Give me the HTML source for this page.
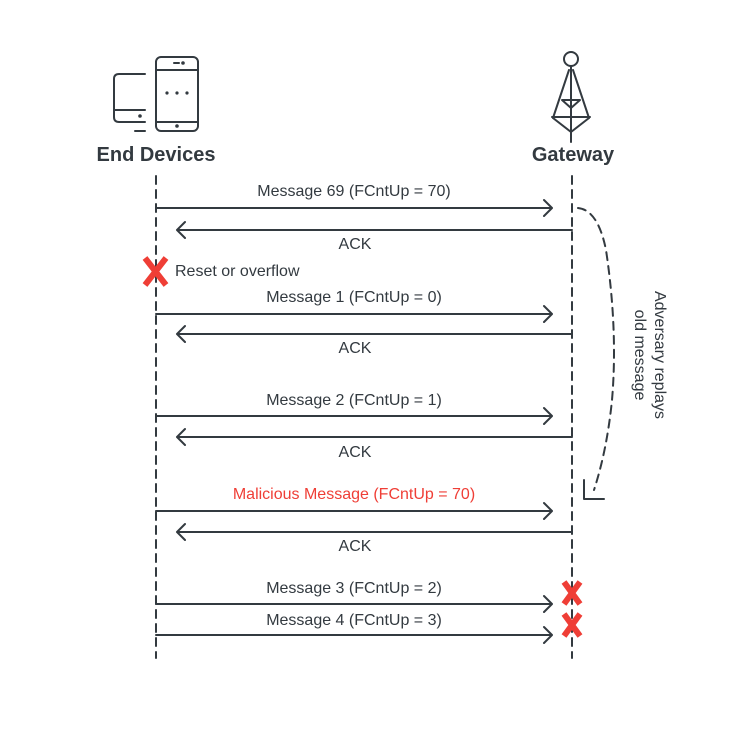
<!DOCTYPE html>
<html><head><meta charset="utf-8"><style>
html,body{margin:0;padding:0;background:#fff;}
svg{display:block;}
text{font-family:"Liberation Sans",Arial,sans-serif;fill:#333a40;}
</style></head><body>
<svg width="730" height="730" viewBox="0 0 730 730" xmlns="http://www.w3.org/2000/svg">
<g stroke="#333a40" stroke-width="2" fill="none" stroke-linecap="round" stroke-linejoin="round">
  <!-- tablet -->
  <path d="M145 74 H119 Q114 74 114 79 V117 Q114 122 119 122 H145"/>
  <line x1="114" y1="110" x2="145" y2="110"/>
  <line x1="135" y1="131" x2="145" y2="131"/>
  <circle cx="140" cy="116" r="0.8" fill="#333a40"/>
  <!-- phone -->
  <rect x="156" y="57" width="42" height="74" rx="5"/>
  <line x1="156" y1="70" x2="198" y2="70"/>
  <line x1="156" y1="122" x2="198" y2="122"/>
  <line x1="174" y1="63" x2="179" y2="63"/>
  <circle cx="183" cy="63" r="0.8" fill="#333a40"/>
  <circle cx="177" cy="126" r="0.8" fill="#333a40"/>
  <circle cx="167" cy="93" r="0.6" fill="#333a40"/>
  <circle cx="177" cy="93" r="0.6" fill="#333a40"/>
  <circle cx="187" cy="93" r="0.6" fill="#333a40"/>
  <!-- tower -->
  <circle cx="571" cy="59" r="7"/>
  <line x1="571" y1="66" x2="571" y2="142"/>
  <path d="M569 70 L553 118 M573 70 L589 118"/>
  <path d="M562 100 H580 L571 108 Z"/>
  <path d="M552 117 H590 M553 118 L571 132 L589 118"/>
  <!-- lifelines -->
  <line x1="156" y1="176" x2="156" y2="658" stroke-dasharray="8,6"/>
  <line x1="572" y1="176" x2="572" y2="658" stroke-dasharray="8,6"/>
  <!-- arrows -->
  <path d="M156 208 H552 M544 200 L552 208 L544 216"/>
  <path d="M572 230 H177 M185 222 L177 230 L185 238"/>
  <path d="M156 314 H552 M544 306 L552 314 L544 322"/>
  <path d="M572 334 H177 M185 326 L177 334 L185 342"/>
  <path d="M156 416 H552 M544 408 L552 416 L544 424"/>
  <path d="M572 437 H177 M185 429 L177 437 L185 445"/>
  <path d="M156 511 H552 M544 503 L552 511 L544 519"/>
  <path d="M572 532 H177 M185 524 L177 532 L185 540"/>
  <path d="M156 604 H552 M544 596 L552 604 L544 612"/>
  <path d="M156 635 H552 M544 627 L552 635 L544 643"/>
  <!-- replay curve -->
  <path d="M578 208 Q598 210 606 250 Q618 330 612 400 Q607 450 594 490" stroke-dasharray="8,6"/>
  <path d="M584 480 V499 H604"/>
</g>
<text x="156" y="161" font-size="20" font-weight="bold" text-anchor="middle">End Devices</text>
<text x="573" y="161" font-size="20" font-weight="bold" text-anchor="middle">Gateway</text>
<g font-size="16" text-anchor="middle">
<text x="354" y="196">Message 69 (FCntUp = 70)</text>
<text x="355" y="249">ACK</text>
<text x="354" y="302">Message 1 (FCntUp = 0)</text>
<text x="355" y="353">ACK</text>
<text x="354" y="405">Message 2 (FCntUp = 1)</text>
<text x="355" y="457">ACK</text>
<text x="354" y="499" style="fill:#ef3e36">Malicious Message (FCntUp = 70)</text>
<text x="355" y="551">ACK</text>
<text x="354" y="593">Message 3 (FCntUp = 2)</text>
<text x="354" y="625">Message 4 (FCntUp = 3)</text>
</g>
<text x="175" y="276" font-size="16">Reset or overflow</text>
<g transform="translate(655,355) rotate(90)" font-size="16" text-anchor="middle">
<text x="0" y="0">Adversary replays</text>
<text x="0" y="20">old message</text>
</g>
<g stroke="#ef3e36" stroke-width="6" stroke-linecap="butt">
  <path d="M145 258 L166 285 M166 258 L145 285"/>
  <path d="M564 582 L580 604 M580 582 L564 604"/>
  <path d="M564 614 L580 636 M580 614 L564 636"/>
</g>
</svg>
</body></html>
